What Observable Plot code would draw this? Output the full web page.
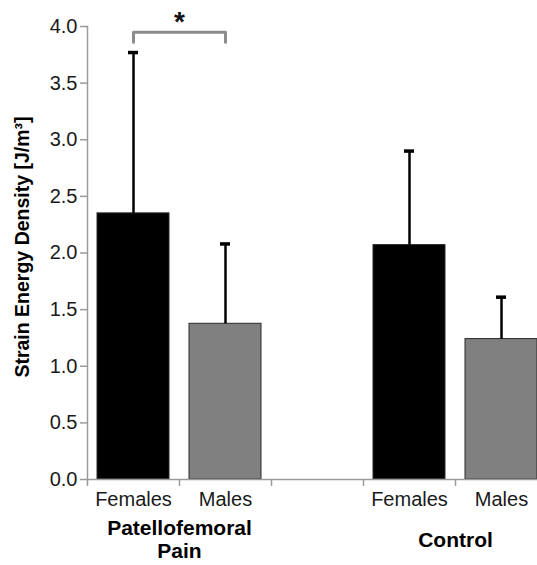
<!DOCTYPE html>
<html>
<head>
<meta charset="utf-8">
<script src="https://cdn.jsdelivr.net/npm/d3@7"></script>
<script src="https://cdn.jsdelivr.net/npm/@observablehq/plot@0.6"></script>
<style>
  html, body { margin: 0; padding: 0; background: white; overflow: hidden; }
  #chart svg { font-family: "Liberation Sans", Arial, sans-serif; }
</style>
</head>
<body>
<div id="chart"></div>
<script>
// ---- data ----
const categories = ["PFP Females", "PFP Males", "gap", "Control Females", "Control Males"];
const categoryLabels = ["Females", "Males", "", "Females", "Males"];
const barCategories = ["PFP Females", "PFP Males", "Control Females", "Control Males"];
const means = [2.35, 1.375, 2.07, 1.24];
const upperErrors = [3.77, 2.08, 2.90, 1.61];
const barColors = ["#000000", "#808080", "#000000", "#808080"];
const yTicks = [0, 0.5, 1, 1.5, 2, 2.5, 3, 3.5, 4];
const groupLabels = ["Patellofemoral\nPain", "Control"];
const groupAt = ["PFP Males", "Control Males"];
const bracketX = ["PFP Females", "PFP Females", "PFP Males", "PFP Males"];
const bracketY = [3.86, 3.95, 3.95, 3.86];
const sigLabel = "*";
const sigY = 4.04;
const yLabel = "Strain Energy Density [J/m³]";

const bars = barCategories.map((c, i) => ({cat: c, value: means[i], upper: upperErrors[i], color: barColors[i]}));
const bracket = bracketX.map((x, i) => ({x, y: bracketY[i]}));
const groups = groupLabels.map((t, i) => ({text: t, x: groupAt[i]}));
const labelMap = new Map(categories.map((c, i) => [c, categoryLabels[i]]));

const W = 537, H = 565;
const mL = 87, mR = -10;
const step = (W - mR - mL) / categories.length;

const plot = Plot.plot({
  width: W,
  height: H,
  marginLeft: mL,
  marginRight: mR,
  marginTop: 26,
  marginBottom: 86,
  style: {fontFamily: "'Liberation Sans', Arial, sans-serif", background: "white"},
  x: {domain: categories, paddingInner: 0.22, paddingOuter: 0.11, axis: null},
  y: {domain: [0, 4], axis: null},
  marks: [
    Plot.barY(bars, {x: "cat", y: "value", fill: "color", stroke: "#2a2a2a", strokeWidth: 1}),
    Plot.ruleX(bars, {x: "cat", y1: "value", y2: "upper", stroke: "#000", strokeWidth: 2.5}),
    Plot.tickY(bars, {x: "cat", y: "upper", stroke: "#000", strokeWidth: 3.5, insetLeft: 31, insetRight: 31}),
    Plot.frame({anchor: "left", stroke: "#9a9a9a", strokeWidth: 1.5}),
    Plot.frame({anchor: "bottom", stroke: "#9a9a9a", strokeWidth: 1.5}),
    Plot.axisY({ticks: yTicks, tickFormat: d3.format(".1f"), tickSize: 7, tickPadding: 3,
      stroke: "#9a9a9a", fill: "#1a1a1a", fontSize: 20, strokeWidth: 1.5, label: null}),
    Plot.axisX({ticks: categories, tickSize: 7, tickFormat: () => "", dx: -step / 2,
      stroke: "#9a9a9a", strokeWidth: 1.5, label: null}),
    Plot.axisX({ticks: categories, tickSize: 0, tickPadding: 12, tickFormat: (d) => labelMap.get(d),
      fill: "#1a1a1a", fontSize: 20, label: null}),
    Plot.line(bracket, {x: "x", y: "y", stroke: "#8c8c8c", strokeWidth: 3, strokeLinejoin: "round", curve: "linear"}),
    Plot.text([sigLabel], {x: () => "PFP Females", y: () => sigY, text: (d) => d, dx: step / 2,
      fontSize: 28, fontWeight: "bold", fill: "#111"}),
    Plot.text(groups, {x: "x", y: () => 0, text: "text", dx: -step / 2, dy: 60, lineAnchor: "middle",
      fontSize: 21, fontWeight: "bold", fill: "#000", lineHeight: 1.1}),
    Plot.text([yLabel], {frameAnchor: "left", textAnchor: "middle", text: (d) => d, rotate: -90, dx: -65, dy: -6,
      fontSize: 19.5, fontWeight: "bold", fill: "#000"})
  ]
});
document.getElementById("chart").appendChild(plot);
</script>
</body>
</html>
